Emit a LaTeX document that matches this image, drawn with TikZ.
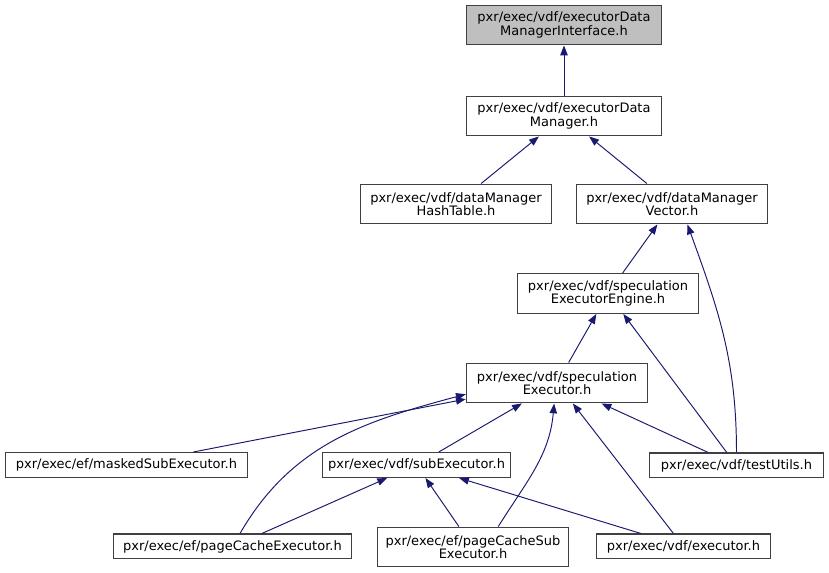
\documentclass[tikz,border=0pt]{standalone}
\usepackage{fontspec}
\setmainfont{DejaVu Sans}
\usepackage{tikz}
\usetikzlibrary{arrows.meta}
\definecolor{depblue}{HTML}{191970}
\definecolor{hdrgray}{HTML}{BFBFBF}
\tikzset{f/.style={draw=black!75, line width=0.6pt, fill=white, align=center, inner sep=0pt, font=\fontsize{7.4}{7.6}\selectfont}}
\tikzset{one/.style={f, minimum height=14.2pt}}
\tikzset{two/.style={f, minimum height=22.7pt}}
\tikzset{d/.style={depblue, line width=0.55pt, -{Triangle[length=5.6pt,width=4.2pt]}}}

\begin{document}
\begin{tikzpicture}[x=0.02cm, y=-0.02cm]
            \useasboundingbox (0,0) rectangle (829,573);

            \node [two, fill=hdrgray, minimum width=111.1pt] (iface) at (564,25) {pxr/exec/vdf/executorData\\ManagerInterface.h};

            \node [two, minimum width=111.1pt] (mgr) at (564,116) {pxr/exec/vdf/executorData\\Manager.h}
              edge [d] (iface);

            \node [two, minimum width=108.8pt] (hash) at (456,204) {pxr/exec/vdf/dataManager\\HashTable.h}
              edge [d] (mgr);

            \node [two, minimum width=108.8pt] (vec) at (672,204) {pxr/exec/vdf/dataManager\\Vector.h}
              edge [d] (mgr);

            \node [two, minimum width=103.2pt] (eng) at (608,293.5) {pxr/exec/vdf/speculation\\ExecutorEngine.h}
              edge [d] (vec);

            \node [two, minimum width=103.2pt] (spx) at (557,383) {pxr/exec/vdf/speculation\\Executor.h}
              edge [d] (eng);

            \node [one, minimum width=137.8pt] (masked) at (126.5,465) {pxr/exec/ef/maskedSubExecutor.h}
              edge [d] (spx.190);

            \node [one, minimum width=107.1pt] (sub) at (416.5,465) {pxr/exec/vdf/subExecutor.h}
              edge [d] (spx);

            \node [one, minimum width=99.2pt] (tu) at (736.5,465.5) {pxr/exec/vdf/testUtils.h}
              edge [d] (spx)
              edge [d] (eng)
              edge [d, out=90, in=-70] (vec.-53);

            \node [one, minimum width=135.5pt] (pcx) at (232.5,546.5) {pxr/exec/ef/pageCacheExecutor.h}
              edge [d] (sub)
              edge [d, out=60, in=195] (spx.187);

            \node [two, minimum width=108.8pt] (pcs) at (473,547) {pxr/exec/ef/pageCacheSub\\Executor.h}
              edge [d] (sub);
            \draw [d] (pcs.39) to [out=58, in=-95] (spx.-98);

            \node [one, minimum width=99.2pt] (exe) at (683.5,546.5) {pxr/exec/vdf/executor.h}
              edge [d] (sub)
              edge [d] (spx);
          \end{tikzpicture}
\end{document}
